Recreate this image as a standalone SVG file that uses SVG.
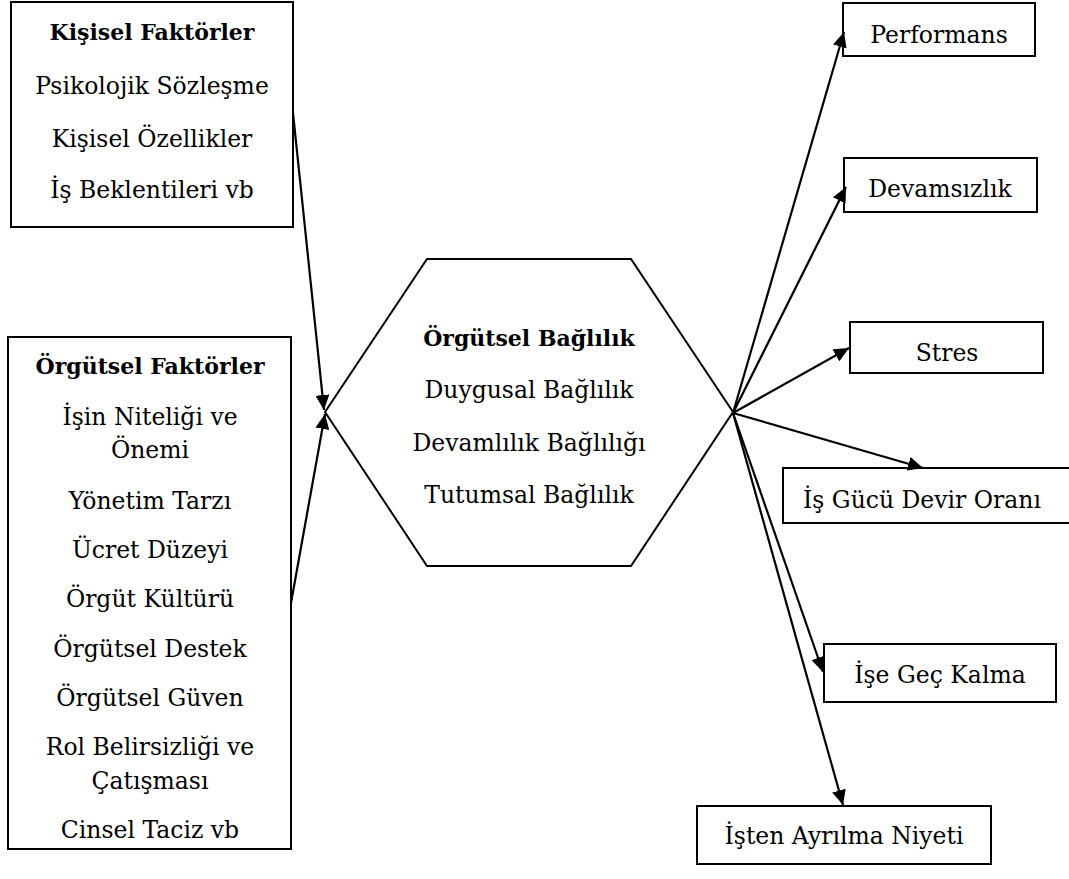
<svg xmlns="http://www.w3.org/2000/svg" width="1069" height="879" viewBox="0 0 1069 879">
<style>
.box{fill:#fff;stroke:#000;stroke-width:2}
.hex{fill:#fff;stroke:#000;stroke-width:2}
.t{font-family:"DejaVu Serif","Liberation Serif",serif;font-size:23.5px;fill:#000;text-anchor:middle}
.b{font-weight:bold;font-size:22px}
.c{stroke:#000;stroke-width:2.2;fill:none;marker-end:url(#ah)}
</style>
<defs>
<marker id="ah" markerUnits="userSpaceOnUse" markerWidth="16" markerHeight="14" refX="15" refY="7" orient="auto">
<path d="M0,0 L15,7 L0,14 z" fill="#000"/>
</marker>
</defs>
<rect width="1069" height="879" fill="#fff"/>
<g id="kisisel">
<rect class="box" x="11" y="2" width="282" height="225"/>
<text class="t b" x="152" y="40">Kişisel Faktörler</text>
<text class="t" x="152" y="94">Psikolojik Sözleşme</text>
<text class="t" x="152" y="147">Kişisel Özellikler</text>
<text class="t" x="152" y="198">İş Beklentileri vb</text>
</g>
<g id="orgutsel">
<rect class="box" x="8" y="337" width="283" height="512"/>
<text class="t b" x="150" y="374">Örgütsel Faktörler</text>
<text class="t" x="150" y="425">İşin Niteliği ve</text>
<text class="t" x="150" y="458">Önemi</text>
<text class="t" x="150" y="509">Yönetim Tarzı</text>
<text class="t" x="150" y="558">Ücret Düzeyi</text>
<text class="t" x="150" y="607">Örgüt Kültürü</text>
<text class="t" x="150" y="657">Örgütsel Destek</text>
<text class="t" x="150" y="706">Örgütsel Güven</text>
<text class="t" x="150" y="755">Rol Belirsizliği ve</text>
<text class="t" x="150" y="789">Çatışması</text>
<text class="t" x="150" y="838">Cinsel Taciz vb</text>
</g>
<g id="baglilik">
<polygon class="hex" points="325,412 427,259 631,259 733,412 631,566 427,566"/>
<text class="t b" x="529" y="346">Örgütsel Bağlılık</text>
<text class="t" x="529" y="398">Duygusal Bağlılık</text>
<text class="t" x="529" y="451">Devamlılık Bağlılığı</text>
<text class="t" x="529" y="503">Tutumsal Bağlılık</text>
</g>
<g id="performans">
<rect class="box" x="843" y="3" width="192" height="53"/>
<text class="t" x="939" y="43">Performans</text>
</g>
<g id="devamsizlik">
<rect class="box" x="844" y="158" width="193" height="54"/>
<text class="t" x="940" y="197">Devamsızlık</text>
</g>
<g id="stres">
<rect class="box" x="850" y="322" width="193" height="51"/>
<text class="t" x="947" y="361">Stres</text>
</g>
<g id="isgucu">
<rect class="box" x="783" y="468" width="290" height="55"/>
<text class="t" x="922" y="508">İş Gücü Devir Oranı</text>
</g>
<g id="gec">
<rect class="box" x="824" y="644" width="232" height="58"/>
<text class="t" x="940" y="683">İşe Geç Kalma</text>
</g>
<g id="ayrilma">
<rect class="box" x="697" y="806" width="294" height="58"/>
<text class="t" x="844" y="844">İşten Ayrılma Niyeti</text>
</g>
<g id="connectors">
<line class="c" x1="293" y1="113" x2="324" y2="410"/>
<line class="c" x1="291" y1="603" x2="325" y2="414"/>
<line class="c" x1="733" y1="413" x2="844" y2="32"/>
<line class="c" x1="733" y1="413" x2="846" y2="187"/>
<line class="c" x1="733" y1="413" x2="849" y2="348"/>
<line class="c" x1="733" y1="413" x2="923" y2="468"/>
<line class="c" x1="733" y1="413" x2="823" y2="672"/>
<line class="c" x1="733" y1="413" x2="843" y2="805"/>
</g>
</svg>
